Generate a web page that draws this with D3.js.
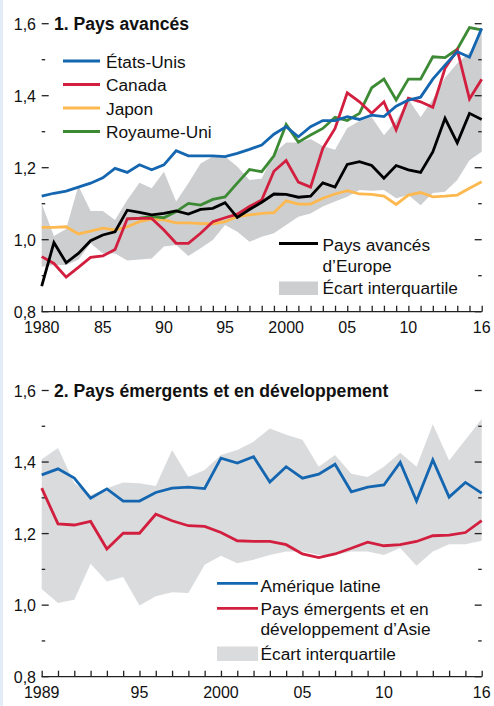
<!DOCTYPE html>
<html>
<head>
<meta charset="utf-8">
<script src="https://cdn.jsdelivr.net/npm/d3@7"></script>
<style>
  html, body { margin: 0; padding: 0; background: #ffffff; }
  svg { display: block; }
  text { font-family: "Liberation Sans", Arial, sans-serif; fill: #111; }
</style>
</head>
<body>
<svg id="chart" width="494" height="706"></svg>
<script>
// ---- Panel 1: advanced economies, 1980–2016 ----
const years1 = d3.range(1980, 2017);
const etatsUnis = [1.121, 1.129, 1.135, 1.146, 1.157, 1.172, 1.198, 1.187, 1.208, 1.194, 1.208, 1.247, 1.233, 1.233, 1.233, 1.231, 1.240, 1.251, 1.263, 1.293, 1.314, 1.286, 1.314, 1.331, 1.331, 1.342, 1.334, 1.346, 1.342, 1.371, 1.388, 1.396, 1.446, 1.485, 1.522, 1.507, 1.587];
const canada = [0.953, 0.934, 0.896, 0.923, 0.951, 0.955, 0.973, 1.058, 1.059, 1.059, 1.027, 0.990, 0.990, 1.018, 1.050, 1.061, 1.071, 1.092, 1.110, 1.190, 1.220, 1.160, 1.146, 1.254, 1.309, 1.408, 1.383, 1.351, 1.383, 1.305, 1.393, 1.383, 1.368, 1.476, 1.527, 1.391, 1.446];
const japon = [1.034, 1.034, 1.036, 1.016, 1.024, 1.032, 1.027, 1.036, 1.050, 1.057, 1.055, 1.047, 1.047, 1.045, 1.044, 1.050, 1.064, 1.069, 1.073, 1.075, 1.108, 1.099, 1.099, 1.115, 1.127, 1.136, 1.127, 1.126, 1.121, 1.098, 1.124, 1.131, 1.119, 1.121, 1.124, 1.143, 1.161];
const royaumeUni = [null, null, null, null, null, null, null, 1.058, 1.060, 1.064, 1.061, 1.078, 1.101, 1.096, 1.112, 1.119, 1.157, 1.195, 1.189, 1.233, 1.320, 1.271, 1.291, 1.309, 1.340, 1.331, 1.351, 1.422, 1.446, 1.388, 1.446, 1.446, 1.508, 1.506, 1.529, 1.589, 1.583];
const europe = [0.871, 0.992, 0.936, 0.962, 0.997, 1.013, 1.022, 1.082, 1.076, 1.069, 1.073, 1.080, 1.071, 1.084, 1.087, 1.103, 1.062, 1.084, 1.104, 1.127, 1.126, 1.118, 1.121, 1.158, 1.146, 1.209, 1.217, 1.206, 1.171, 1.206, 1.194, 1.187, 1.244, 1.337, 1.269, 1.351, 1.334];
const iqrHaut1 = [1.100, 1.010, 1.030, 1.150, 1.080, 1.080, 1.055, 1.110, 1.158, 1.143, 1.189, 1.106, 1.157, 1.212, 1.231, 1.231, 1.203, 1.166, 1.170, 1.240, 1.270, 1.270, 1.280, 1.260, 1.250, 1.310, 1.330, 1.340, 1.290, 1.330, 1.390, 1.340, 1.390, 1.450, 1.490, 1.520, 1.580];
const iqrBas1 = [0.925, 0.930, 0.930, 0.944, 0.990, 0.962, 0.962, 0.942, 0.945, 0.948, 0.981, 0.985, 0.955, 0.976, 0.999, 1.041, 1.022, 0.994, 1.008, 1.018, 1.041, 1.064, 1.073, 1.092, 1.106, 1.119, 1.138, 1.136, 1.138, 1.115, 1.124, 1.096, 1.130, 1.133, 1.166, 1.221, 1.244];
const xLabels1 = ["1980", "85", "90", "95", "2000", "05", "10", "16"];
const xLabelYears1 = [1980, 1985, 1990, 1995, 2000, 2005, 2010, 2016];

// ---- Panel 2: emerging and developing economies, 1989–2016 ----
const years2 = d3.range(1989, 2017);
const ameriqueLatine = [1.364, 1.381, 1.355, 1.299, 1.325, 1.291, 1.291, 1.315, 1.327, 1.330, 1.326, 1.411, 1.397, 1.415, 1.344, 1.387, 1.355, 1.366, 1.394, 1.317, 1.330, 1.336, 1.399, 1.291, 1.406, 1.302, 1.343, 1.313];
const asie = [1.327, 1.227, 1.224, 1.234, 1.157, 1.201, 1.201, 1.254, 1.236, 1.222, 1.220, 1.203, 1.180, 1.178, 1.178, 1.169, 1.143, 1.133, 1.143, 1.159, 1.176, 1.166, 1.169, 1.178, 1.194, 1.196, 1.203, 1.236];
const iqrHaut2 = [1.408, 1.439, 1.341, 1.308, 1.327, 1.343, 1.341, 1.333, 1.434, 1.358, 1.378, 1.420, 1.434, 1.457, 1.494, 1.476, 1.462, 1.387, 1.420, 1.367, 1.358, 1.387, 1.426, 1.387, 1.506, 1.404, 1.462, 1.520];
const iqrBas2 = [1.045, 1.006, 1.015, 1.116, 1.066, 1.079, 0.999, 1.025, 1.036, 1.034, 1.113, 1.138, 1.117, 1.127, 1.140, 1.150, 1.150, 1.140, 1.140, 1.150, 1.150, 1.140, 1.160, 1.110, 1.150, 1.170, 1.170, 1.180];
const xLabels2 = ["1989", "95", "2000", "05", "10", "16"];
const xLabelYears2 = [1989, 1995, 2000, 2005, 2010, 2016];

// shared y ticks
const yMajor = [0.8, 1.0, 1.2, 1.4, 1.6];
const yMinor = [0.9, 1.1, 1.3, 1.5];
const fmt = v => d3.format(".1f")(v).replace(".", ",");

const COL = {
  blue: "#1466b0",
  red: "#d21f3f",
  yellow: "#fdb950",
  green: "#3d8a35",
  black: "#000000",
  band1: "#cdced0",
  band2: "#dadbdd"
};

const svg = d3.select("#chart");
svg.append("rect").attr("width", 494).attr("height", 706).attr("fill", "#fff");
svg.append("rect").attr("x", 0).attr("y", 0).attr("width", 3).attr("height", 706).attr("fill", "#e3edf7");

const X0 = 41.7, X1 = 481.7;

function drawPanel(opts) {
  const g = svg.append("g");
  const x = d3.scaleLinear().domain(opts.xDomain).range([X0, X1]);
  const y = d3.scaleLinear().domain([0.8, 1.6]).range([opts.yBottom, opts.yTop]);

  // interquartile band
  const area = d3.area()
    .x((d, i) => x(opts.years[i]))
    .y0((d, i) => y(opts.lo[i]))
    .y1((d, i) => y(opts.hi[i]));
  g.append("path").datum(opts.hi).attr("d", area).attr("fill", opts.bandColor);

  // y ticks, left and right, pointing inward
  yMajor.forEach(v => {
    g.append("line").attr("x1", X0).attr("x2", X0 + 7).attr("y1", y(v)).attr("y2", y(v)).attr("stroke", "#222").attr("stroke-width", 1.3);
    g.append("line").attr("x1", X1 - 7).attr("x2", X1).attr("y1", y(v)).attr("y2", y(v)).attr("stroke", "#222").attr("stroke-width", 1.3);
    g.append("text").attr("x", 36).attr("y", y(v) + 6).attr("text-anchor", "end")
      .attr("font-size", 16).text(fmt(v));
  });
  yMinor.forEach(v => {
    g.append("line").attr("x1", X0).attr("x2", X0 + 3.5).attr("y1", y(v)).attr("y2", y(v)).attr("stroke", "#222").attr("stroke-width", 1.3);
    g.append("line").attr("x1", X1 - 3.5).attr("x2", X1).attr("y1", y(v)).attr("y2", y(v)).attr("stroke", "#222").attr("stroke-width", 1.3);
  });

  // series
  opts.series.forEach(s => {
    const line = d3.line()
      .defined(d => d.v != null)
      .x(d => x(d.t))
      .y(d => y(d.v));
    g.append("path")
      .datum(s.values.map((v, i) => ({ t: opts.years[i], v })))
      .attr("d", line)
      .attr("fill", "none")
      .attr("stroke", s.color)
      .attr("stroke-width", 2.8)
      .attr("stroke-linejoin", "miter")
      .attr("stroke-miterlimit", 3);
  });

  // x axis with yearly ticks pointing up
  const axis = d3.axisTop(x)
    .tickValues(opts.years)
    .tickSize(6)
    .tickFormat("");
  const ax = g.append("g").attr("transform", `translate(0,${opts.yBottom})`).call(axis);
  ax.select(".domain").attr("d", `M${X0},0H${X1}`).attr("stroke", "#222").attr("stroke-width", 1.3);
  ax.selectAll(".tick line").attr("stroke", "#222").attr("stroke-width", 1.3);

  opts.labelYears.forEach((yr, i) => {
    g.append("text").attr("x", x(yr)).attr("y", opts.yBottom + 21)
      .attr("text-anchor", "middle").attr("font-size", 16).text(opts.labels[i]);
  });

  // title
  g.append("text").attr("x", 54).attr("y", y(1.6) + 6)
    .attr("font-size", 17.6).attr("font-weight", "bold").text(opts.title);

  return { g, x, y };
}

const p1 = drawPanel({
  xDomain: [1980, 2016], years: years1, yTop: 23.7, yBottom: 311.7,
  lo: iqrBas1, hi: iqrHaut1, bandColor: COL.band1,
  series: [
    { values: japon, color: COL.yellow },
    { values: royaumeUni, color: COL.green },
    { values: canada, color: COL.red },
    { values: etatsUnis, color: COL.blue },
    { values: europe, color: COL.black }
  ],
  labelYears: xLabelYears1, labels: xLabels1,
  title: "1. Pays avancés"
});

const p2 = drawPanel({
  xDomain: [1989, 2016], years: years2, yTop: 390.5, yBottom: 676.7,
  lo: iqrBas2, hi: iqrHaut2, bandColor: COL.band2,
  series: [
    { values: asie, color: COL.red },
    { values: ameriqueLatine, color: COL.blue }
  ],
  labelYears: xLabelYears2, labels: xLabels2,
  title: "2. Pays émergents et en développement"
});

// ---- legends ----
const LFS = 17.3;
function legendLine(x1, x2, yy, color) {
  svg.append("line").attr("x1", x1).attr("x2", x2).attr("y1", yy).attr("y2", yy)
    .attr("stroke", color).attr("stroke-width", 2.8);
}
function legendText(xx, yy, t) {
  svg.append("text").attr("x", xx).attr("y", yy).attr("font-size", LFS).text(t);
}

// panel 1, upper-left legend
const leg1 = [
  { name: "États-Unis", color: COL.blue },
  { name: "Canada", color: COL.red },
  { name: "Japon", color: COL.yellow },
  { name: "Royaume-Uni", color: COL.green }
];
leg1.forEach((d, i) => {
  const yy = 61 + i * 23.5;
  legendLine(63, 100, yy, d.color);
  legendText(106, yy + 6.5, d.name);
});

// panel 1, lower-right legend
legendLine(279, 318, 243.5, COL.black);
legendText(322.5, 250.5, "Pays avancés");
legendText(322.5, 272, "d’Europe");
svg.append("rect").attr("x", 279).attr("y", 281.5).attr("width", 39).attr("height", 13.5).attr("fill", COL.band1);
legendText(322.5, 294, "Écart interquartile");

// panel 2 legend
legendLine(217, 258, 583.3, COL.blue);
legendText(260.5, 591.5, "Amérique latine");
legendLine(217, 258, 608.3, COL.red);
legendText(260.5, 615, "Pays émergents et en");
legendText(260.5, 635, "développement d’Asie");
svg.append("rect").attr("x", 217).attr("y", 646.5).attr("width", 41).attr("height", 14.5).attr("fill", COL.band2);
legendText(260.5, 660, "Écart interquartile");
</script>
</body>
</html>
